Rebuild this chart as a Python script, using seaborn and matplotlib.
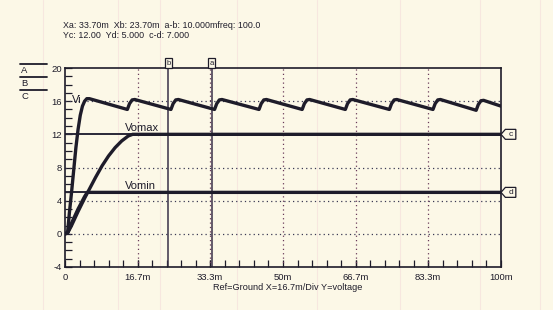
import matplotlib
matplotlib.use("Agg")
import matplotlib.pyplot as plt
import matplotlib.transforms as mtransforms
from matplotlib.patches import Polygon, Rectangle
from matplotlib.lines import Line2D
import seaborn as sns
import pandas as pd

# ---- data (time in ms, voltage in V) ----
vi_t = [0, 0.6, 1.0, 1.5, 2.0, 2.5, 3.0, 3.5, 4.0, 4.5, 5.0, 5.6,
        14.3, 14.8, 15.4, 16.0,
        24.3, 24.8, 25.4, 26.0,
        34.3, 34.8, 35.4, 36.0,
        44.5, 45.0, 45.6, 46.2,
        54.4, 54.9, 55.5, 56.1,
        64.3, 64.8, 65.4, 66.0,
        74.4, 74.9, 75.5, 76.1,
        84.4, 84.9, 85.5, 86.1,
        94.3, 94.8, 95.4, 96.0,
        100.0]
vi_v = [0, 0.2, 2.5, 5.0, 7.7, 10.4, 12.6, 14.3, 15.4, 16.0, 16.3, 16.3,
        15.0, 15.7, 16.15, 16.2,
        15.0, 15.7, 16.15, 16.2,
        15.0, 15.7, 16.15, 16.2,
        15.0, 15.7, 16.15, 16.2,
        15.0, 15.7, 16.15, 16.2,
        15.0, 15.7, 16.15, 16.2,
        15.0, 15.7, 16.15, 16.2,
        15.0, 15.7, 16.15, 16.2,
        14.9, 15.6, 16.05, 16.1,
        15.4]
vomax_t = [0, 0.6, 1.5, 3.0, 4.5, 5.5, 7.0, 8.5, 10.0, 11.5, 13.0, 14.5, 15.5, 100.0]
vomax_v = [0, 0.1, 1.0, 2.7, 4.3, 5.3, 6.8, 8.2, 9.4, 10.4, 11.2, 11.8, 12.0, 12.0]
vomin_t = [0, 0.6, 1.5, 3.0, 4.5, 5.1, 100.0]
vomin_v = [0, 0.1, 1.3, 3.0, 4.5, 5.0, 5.0]

cursor_x = {"a": 33.7, "b": 23.7}
cursor_y = {"c": 12.0, "d": 5.0}
xtick_pos = [0, 16.7, 33.3, 50, 66.7, 83.3, 100]
xtick_lab = ["0", "16.7m", "33.3m", "50m", "66.7m", "83.3m", "100m"]
ytick_pos = [-4, 0, 4, 8, 12, 16, 20]
trace_labels = ["A", "B", "C"]

df = pd.concat([
    pd.DataFrame({"t": vi_t, "v": vi_v, "trace": "Vi"}),
    pd.DataFrame({"t": vomax_t, "v": vomax_v, "trace": "Vomax"}),
    pd.DataFrame({"t": vomin_t, "v": vomin_v, "trace": "Vomin"}),
])

sns.set_style("white")
plt.rcParams["font.family"] = ["Liberation Sans", "DejaVu Sans"]
plt.rcParams["axes.unicode_minus"] = False

BG = "#fcf8e7"
INK = "#1e1c2a"
fig = plt.figure(figsize=(5.53, 3.10), dpi=100, facecolor=BG)
W, H = 553, 310
ax = fig.add_axes([65 / W, 1 - 267 / H, 436 / W, 199 / H])
ax.set_facecolor("none")

# faint paper lines
for px in [43, 118, 160, 237, 317, 400, 480, 540]:
    fig.add_artist(Line2D([px / W, px / W], [0, 1], transform=fig.transFigure,
                          color="#f3d3d6", lw=0.8, alpha=0.45, zorder=0))

ax.set_xlim(0, 100)
ax.set_ylim(-4, 20)

# grid (dotted)
for y in [0, 4, 8, 16]:
    ax.axhline(y, color="#3c3a55", lw=0.9, ls=(0, (1, 2.5)), zorder=1)
for x in [16.7, 33.3, 50, 66.7, 83.3]:
    ax.axvline(x, color="#6a3a5a", lw=0.9, ls=(0, (1, 2.5)), zorder=1)

# cursors
for name, y in cursor_y.items():
    ax.axhline(y, color="#2a2838", lw=1.4, zorder=2)
for name, x in cursor_x.items():
    ax.axvline(x, color="#3a3048", lw=1.1, zorder=2)

sns.lineplot(data=df, x="t", y="v", units="trace", estimator=None,
             color=INK, lw=2.4, ax=ax, legend=False, zorder=3, sort=False)

# cursor tags
tr_r = mtransforms.blended_transform_factory(ax.transAxes, ax.transData)
for name, y in cursor_y.items():
    poly = Polygon([(1.0, y), (1.01, y + 0.6), (1.034, y + 0.6),
                    (1.034, y - 0.6), (1.01, y - 0.6)], closed=True,
                   transform=tr_r, clip_on=False, fc=BG, ec=INK, lw=0.9, zorder=4)
    ax.add_patch(poly)
    ax.text(1.023, y, name, transform=tr_r, ha="center", va="center",
            fontsize=6, color=INK, clip_on=False, zorder=6)
tr_t = mtransforms.blended_transform_factory(ax.transData, ax.transAxes)
for name, x in cursor_x.items():
    ax.add_patch(Rectangle((x - 0.8, 1.0), 1.6, 0.048, transform=tr_t,
                           clip_on=False, fc=BG, ec=INK, lw=0.9, zorder=4))
    ax.text(x, 1.022, name, transform=tr_t, ha="center", va="center",
            fontsize=5.5, color=INK, clip_on=False, zorder=6)

# trace labels
ax.text(1.6, 16.2, "Vi", fontsize=8, color=INK, va="center", ha="left")
ax.text(13.8, 12.8, "Vomax", fontsize=8, color=INK, va="center", ha="left")
ax.text(13.8, 5.8, "Vomin", fontsize=8, color=INK, va="center", ha="left")

# ticks
ax.set_xticks(xtick_pos)
ax.set_xticklabels(xtick_lab)
ax.set_yticks(ytick_pos)
ax.set_yticks(list(range(-4, 21)), minor=True)
ax.set_xticks([i * 100 / 30 for i in range(31)], minor=True)
ax.tick_params(axis="both", which="both", direction="in", color=INK,
               labelsize=6.8, labelcolor=INK, width=0.9)
ax.tick_params(axis="y", which="both", length=5, pad=2, left=True)
ax.tick_params(axis="x", which="both", length=5, pad=4, bottom=True)
for s in ax.spines.values():
    s.set_color(INK)
    s.set_linewidth(1.2)
ax.set_xlabel("")
ax.set_ylabel("")

fig.text(288 / W, 1 - 288 / H, "Ref=Ground X=16.7m/Div Y=voltage", fontsize=6.6,
         color=INK, ha="center", va="center")

# header readouts
fig.text(63 / W, 1 - 25 / H, "Xa: 33.70m  Xb: 23.70m  a-b: 10.000mfreq: 100.0",
         fontsize=6.4, color=INK, ha="left", va="center")
fig.text(63 / W, 1 - 35 / H, "Yc: 12.00  Yd: 5.000  c-d: 7.000",
         fontsize=6.4, color=INK, ha="left", va="center")

# left legend A/B/C
for i, lab in enumerate(trace_labels):
    yl = 64 + 13 * i
    fig.add_artist(Line2D([20 / W, 47 / W], [1 - yl / H, 1 - yl / H],
                          transform=fig.transFigure, color=INK, lw=1.3))
    fig.text(21 / W, 1 - (yl + 6.5) / H, lab, fontsize=6.8, color=INK,
             ha="left", va="center")

fig.savefig("out.png", dpi=100, facecolor=BG)
